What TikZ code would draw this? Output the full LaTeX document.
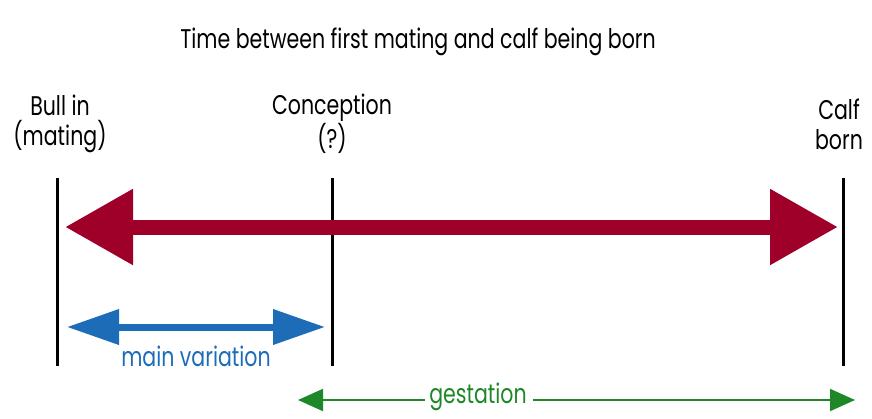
\documentclass[tikz,border=0pt]{standalone}
\usepackage{fontspec}
\setmainfont{Poppins}[FakeStretch=0.76]
\usetikzlibrary{arrows.meta, positioning, calc}
\definecolor{matingred}{RGB}{158,0,42}
\definecolor{varblue}{RGB}{28,108,184}
\definecolor{gestgreen}{RGB}{30,135,40}
\tikzstyle{tag} = [align=center, inner sep=0pt, font=\fontsize{13.5}{15}\selectfont]
\tikzstyle{marker} = [line width=1.5pt, black]
\tikzstyle{bigarrow} = [matingred, line width=7.5pt, {Triangle[length=34pt,width=36pt]}-{Triangle[length=34pt,width=36pt]}]
\tikzstyle{vararrow} = [varblue, line width=3.5pt, {Triangle[length=26pt,width=17pt]}-{Triangle[length=26pt,width=17pt]}]
\tikzstyle{gestarrow} = [gestgreen, line width=1pt, -{Triangle[length=12.5pt,width=11pt]}]

\begin{document}
\begin{tikzpicture}[x=0.5pt, y=-0.5pt]
\useasboundingbox (0, 0) rectangle (872, 418);

  \node[tag] (title) at (418, 42) {Time between first mating and calf being born};

  % time markers
  \coordinate (bulltop) at (57, 178);
  \coordinate (bullbot) at (57, 366);
  \coordinate (conctop) at (332, 178);
  \coordinate (concbot) at (332, 366);
  \coordinate (calftop) at (843, 178);
  \coordinate (calfbot) at (843, 366);
  \draw[marker] (bulltop) -- (bullbot);
  \draw[marker] (conctop) -- (concbot);
  \draw[marker] (calftop) -- (calfbot);

  \node[tag] (bulllabel) at ($(bulltop) + (3, -54)$) {Bull in\\(mating)};
  \node[tag] (conclabel) at ($(conctop) + (0, -54)$) {Conception\\(?)};
  \node[tag] (calflabel) at ($(calftop) + (-4, -54)$) {Calf\\born};

  % whole span
  \coordinate (redleft) at (65, 227);
  \coordinate (redright) at (838, 227);
  \draw[bigarrow] (redleft) -- (redright);

  % main variation
  \coordinate (blueleft) at (67, 327);
  \coordinate (blueright) at (325, 327);
  \draw[vararrow] (blueleft) -- (blueright);
  \node[tag, text=varblue] (varlabel) at (196, 356) {main variation};

  % gestation
  \node[tag, text=gestgreen] (gestlabel) at (478, 397) {gestation};
  \coordinate (gestleft) at (298, 400);
  \coordinate (gestright) at (855, 400);
  \draw[gestarrow] ($(gestlabel.west) + (-4, 3)$) -- (gestleft);
  \draw[gestarrow] ($(gestlabel.east) + (6, 3)$) -- (gestright);

\end{tikzpicture}
\end{document}
